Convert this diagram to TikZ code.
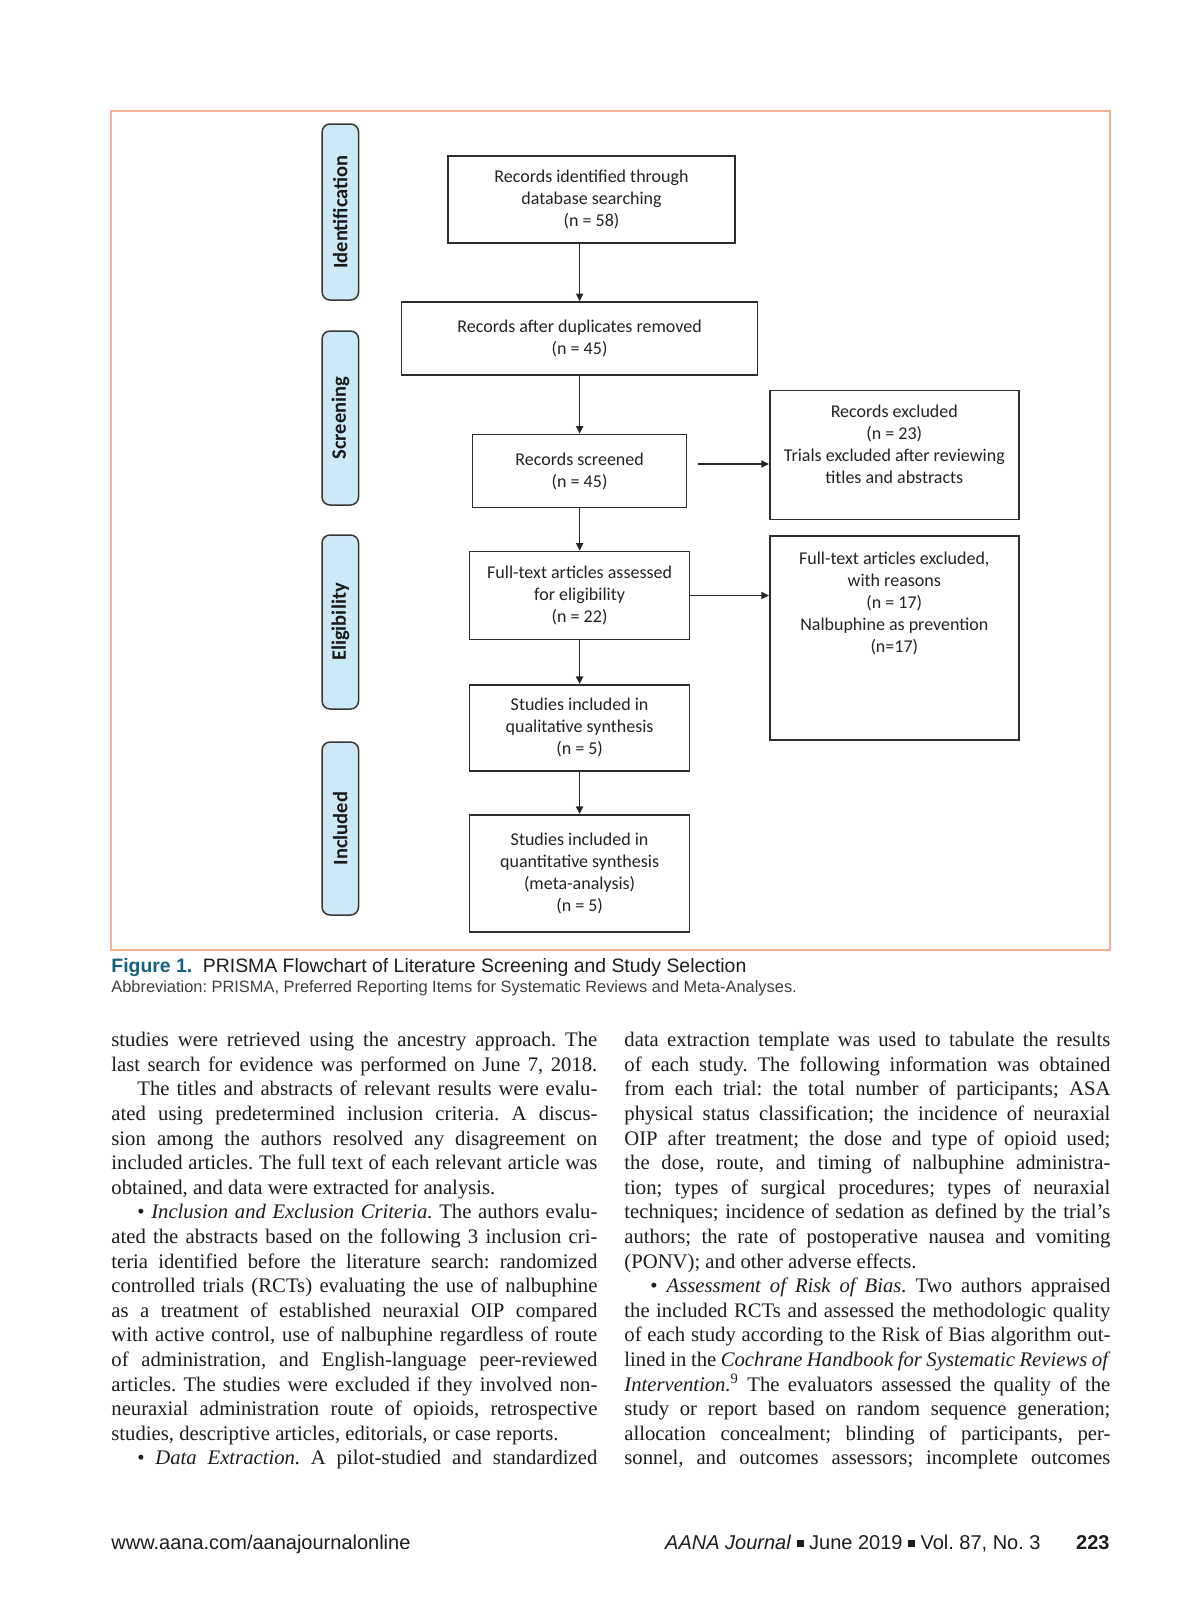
\documentclass[tikz,border=0pt]{standalone}
\usepackage{fontspec}
\setmainfont{Liberation Serif}
\newfontfamily\boxfont{Carlito}
\newfontfamily\capfont{Liberation Sans}
\usetikzlibrary{arrows.meta,calc}
\definecolor{framec}{RGB}{243,176,148}
\definecolor{stagefill}{RGB}{205,233,247}
\definecolor{stageline}{RGB}{55,55,55}
\definecolor{boxline}{RGB}{45,45,45}
\definecolor{boxtext}{RGB}{35,35,35}
\definecolor{figteal}{RGB}{22,96,128}
\definecolor{bodyc}{RGB}{30,28,28}
\newlength\colw \setlength\colw{243pt}
\newlength\colwi \setlength\colwi{230pt}
\newcommand\jline[5]{\node[bodytxt] (#1) at (#2,{1046.7+24.6*(#3-1)}) {\makebox[#4][s]{#5}};}
\newcommand\nline[4]{\node[bodytxt] (#1) at (#2,{1046.7+24.6*(#3-1)}) {#4};}
\newcommand\sqmark{\raisebox{0.12em}{\rule{0.34em}{0.34em}}}
\frenchspacing
\begin{document}
\begin{tikzpicture}[x=0.5pt,y=-0.5pt,
  box/.style={draw=boxline, line width=0.8pt, fill=white, inner sep=0pt, align=center,
    font=\boxfont\fontsize{9}{11}\selectfont, text=boxtext},
  boxtxt/.style={inner sep=0pt, align=center, anchor=north,
    font=\boxfont\fontsize{9}{11}\selectfont, text=boxtext},
  stage/.style={draw=stageline, line width=0.75pt, fill=stagefill, rounded corners=4pt,
    rotate=90, inner sep=0pt, minimum height=18.25pt,
    font=\boxfont\bfseries\fontsize{10.25}{12}\selectfont, text=black!90},
  arr/.style={-{Triangle[length=3.8pt,width=3.6pt]}, line width=0.65pt, draw=black!85},
  bodytxt/.style={anchor=base west, inner sep=0pt, font=\frenchspacing\fontsize{10.35}{12}\selectfont, text=bodyc},
  captxt/.style={anchor=base west, inner sep=0pt, text=bodyc},
  foot/.style={anchor=base west, inner sep=0pt, font=\capfont\fontsize{10}{12}\selectfont, text=bodyc}
]
\path[use as bounding box] (0,0) rectangle (1200,1606);
\fill[white] (0,0) rectangle (1200,1606);
\draw[framec, line width=0.7pt] (111,111) rectangle (1110,950);

% stage labels
\node[stage, minimum width=88pt] (sId) at (340.3,212) {Identification};
\node[stage, minimum width=87pt] (sSc) at (340.3,418) {Screening};
\node[stage, minimum width=87pt] (sEl) at (340.3,622) {Eligibility};
\node[stage, minimum width=86.5pt] (sIn) at (340.3,828.5) {Included};

% main boxes
\node[box, minimum width=143.5pt, minimum height=43.5pt] (B1) at (591.5,199.5) {Records identified through\\database searching\\(n = 58)};
\node[box, minimum width=178pt, minimum height=36.5pt] (B2) at (579.6,338.5) {Records after duplicates removed\\(n = 45)};
\node[box, minimum width=107pt, minimum height=36.5pt] (B3) at (579.6,471) {Records screened\\(n = 45)};
\node[box, minimum width=110pt, minimum height=44pt] (B4) at (579.6,595.5) {Full-text articles assessed\\for eligibility\\(n = 22)};
\node[box, minimum width=110pt, minimum height=43pt] (B5) at (579.6,727.8) {Studies included in\\qualitative synthesis\\(n = 5)};
\node[box, minimum width=110pt, minimum height=58.5pt] (B6) at (579.6,873.3) {Studies included in\\quantitative synthesis\\(meta-analysis)\\(n = 5)};
\node[box, minimum width=124.5pt, minimum height=64.5pt] (R1) at (894.3,455.1) {};
\node[boxtxt] (R1t) at ($(R1.north)+(0,15)$) {Records excluded\\(n = 23)\\Trials excluded after reviewing\\titles and abstracts};
\node[box, minimum width=124.5pt, minimum height=102pt] (R2) at (894.3,638) {};
\node[boxtxt] (R2t) at ($(R2.north)+(0,16)$) {Full-text articles excluded,\\with reasons\\(n = 17)\\Nalbuphine as prevention\\(n=17)};

% connectors
\draw[arr] (B1.south -| B2.north) -- (B2.north);
\draw[arr] (B2.south) -- (B3.north);
\draw[arr] (B3.south) -- (B4.north);
\draw[arr] (B4.south) -- (B5.north);
\draw[arr] (B5.south) -- (B6.north);
\coordinate (a3s) at (698,464);
\draw[arr] (a3s) -- (a3s -| R1.west);
\draw[arr] (B4.east) -- (B4.east -| R2.west);

% caption
\node[captxt, font=\capfont\fontsize{9.7}{11}\selectfont] (cap1) at (111,972) {\textcolor{figteal}{\bfseries Figure 1.}\hspace{0.55em}PRISMA Flowchart of Literature Screening and Study Selection};
\node[captxt, font=\capfont\fontsize{8.2}{10}\selectfont, text=black!75] (cap2) at (111,992) {Abbreviation: PRISMA, Preferred Reporting Items for Systematic Reviews and Meta-Analyses.};

% left column
\jline{l1}{111}{1}{\colw}{studies were retrieved using the ancestry approach. The}
\jline{l2}{111}{2}{\colw}{last search for evidence was performed on June 7, 2018.}
\jline{l3}{137}{3}{\colwi}{The titles and abstracts of relevant results were evalu-}
\jline{l4}{111}{4}{\colw}{ated using predetermined inclusion criteria. A discus-}
\jline{l5}{111}{5}{\colw}{sion among the authors resolved any disagreement on}
\jline{l6}{111}{6}{\colw}{included articles. The full text of each relevant article was}
\nline{l7}{111}{7}{obtained, and data were extracted for analysis.}
\jline{l8}{137}{8}{\colwi}{\textbullet\ \textit{Inclusion and Exclusion Criteria.} The authors evalu-}
\jline{l9}{111}{9}{\colw}{ated the abstracts based on the following 3 inclusion cri-}
\jline{l10}{111}{10}{\colw}{teria identified before the literature search: randomized}
\jline{l11}{111}{11}{\colw}{controlled trials (RCTs) evaluating the use of nalbuphine}
\jline{l12}{111}{12}{\colw}{as a treatment of established neuraxial OIP compared}
\jline{l13}{111}{13}{\colw}{with active control, use of nalbuphine regardless of route}
\jline{l14}{111}{14}{\colw}{of administration, and English-language peer-reviewed}
\jline{l15}{111}{15}{\colw}{articles. The studies were excluded if they involved non-}
\jline{l16}{111}{16}{\colw}{neuraxial administration route of opioids, retrospective}
\nline{l17}{111}{17}{studies, descriptive articles, editorials, or case reports.}
\jline{l18}{137}{18}{\colwi}{\textbullet\ \textit{Data Extraction.} A pilot-studied and standardized}

% right column
\jline{r1}{624}{1}{\colw}{data extraction template was used to tabulate the results}
\jline{r2}{624}{2}{\colw}{of each study. The following information was obtained}
\jline{r3}{624}{3}{\colw}{from each trial: the total number of participants; ASA}
\jline{r4}{624}{4}{\colw}{physical status classification; the incidence of neuraxial}
\jline{r5}{624}{5}{\colw}{OIP after treatment; the dose and type of opioid used;}
\jline{r6}{624}{6}{\colw}{the dose, route, and timing of nalbuphine administra-}
\jline{r7}{624}{7}{\colw}{tion; types of surgical procedures; types of neuraxial}
\jline{r8}{624}{8}{\colw}{techniques; incidence of sedation as defined by the trial’s}
\jline{r9}{624}{9}{\colw}{authors; the rate of postoperative nausea and vomiting}
\nline{r10}{624}{10}{(PONV); and other adverse effects.}
\jline{r11}{650}{11}{\colwi}{\textbullet\ \textit{Assessment of Risk of Bias.} Two authors appraised}
\jline{r12}{624}{12}{\colw}{the included RCTs and assessed the methodologic quality}
\jline{r13}{624}{13}{\colw}{of each study according to the Risk of Bias algorithm out-}
\jline{r14}{624}{14}{\colw}{lined in the \textit{Cochrane Handbook for Systematic Reviews of}}
\jline{r15}{624}{15}{\colw}{\textit{Intervention.}\textsuperscript{9} The evaluators assessed the quality of the}
\jline{r16}{624}{16}{\colw}{study or report based on random sequence generation;}
\jline{r17}{624}{17}{\colw}{allocation concealment; blinding of participants, per-}
\jline{r18}{624}{18}{\colw}{sonnel, and outcomes assessors; incomplete outcomes}

% footer
\node[foot] (f1) at (111,1549) {www.aana.com/aanajournalonline};
\node[foot, anchor=base east] (f2) at (1041,1549) {\textit{AANA Journal} \sqmark{} June 2019 \sqmark{} Vol.~87, No.~3};
\node[foot, anchor=base east] (f3) at (1110,1549) {\bfseries 223};
\end{tikzpicture}
\end{document}
